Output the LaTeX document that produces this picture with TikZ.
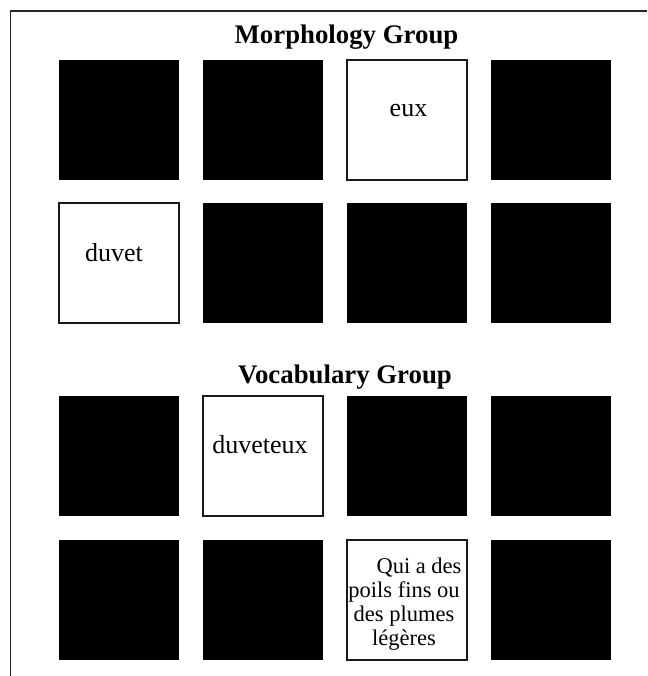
\documentclass[tikz,border=0pt]{standalone}
\usepackage{fontspec}
\setmainfont{Liberation Serif}
\usepackage{tikz}
\usetikzlibrary{positioning}

\begin{document}
\begin{tikzpicture}[x=1pt, y=-1pt,
	card/.style={draw=black!90, line width=1.2pt, minimum size=120pt, inner sep=0pt},
	hidden/.style={card, fill=black, draw=none},
	word/.style={inner sep=0pt, anchor=base, font=\fontsize{26}{28}\selectfont},
	title/.style={inner sep=0pt, anchor=base, font=\fontsize{26.8}{28}\selectfont\bfseries}
]
	\useasboundingbox (0,0) rectangle (647,676);

	% Frame
	\draw[line width=1.3pt, black!85] (647,11) -- (10.5,11) -- (10.5,676);

	% Morphology group
	\node[title] (morph) at (346.5,44) {Morphology Group};

	\node[hidden] (m11) at (119,120) {};
	\node[hidden] (m12) at (263,120) {};
	\node[card]   (m13) at (407,120) {};
	\node[hidden] (m14) at (551,120) {};

	\node[card]   (m21) at (119,263) {};
	\node[hidden] (m22) at (263,263) {};
	\node[hidden] (m23) at (407,263) {};
	\node[hidden] (m24) at (551,263) {};

	\node[word] (eux)   at ([xshift=1.5pt, yshift=3pt]m13.center) {eux};
	\node[word] (duvet) at ([xshift=-5pt, yshift=2pt]m21.center) {duvet};

	% Vocabulary group
	\node[title] (vocab) at (345,383) {Vocabulary Group};

	\node[hidden] (v11) at (119,456) {};
	\node[card]   (v12) at (263,456) {};
	\node[hidden] (v13) at (407,456) {};
	\node[hidden] (v14) at (551,456) {};

	\node[hidden] (v21) at (119,600) {};
	\node[hidden] (v22) at (263,600) {};
	\node[card]   (v23) at (407,600) {};
	\node[hidden] (v24) at (551,600) {};

	\node[word] (duveteux) at ([xshift=-3pt, yshift=3pt]v12.center) {duveteux};
	\node[inner sep=0pt, align=center, font=\fontsize{22.5}{24}\selectfont] (meaning)
		at ([xshift=-3pt, yshift=-4.5pt]v23.center)
		{\hspace*{30pt}Qui a des\\ poils fins ou\\ des plumes\\ légères};
\end{tikzpicture}
\end{document}
